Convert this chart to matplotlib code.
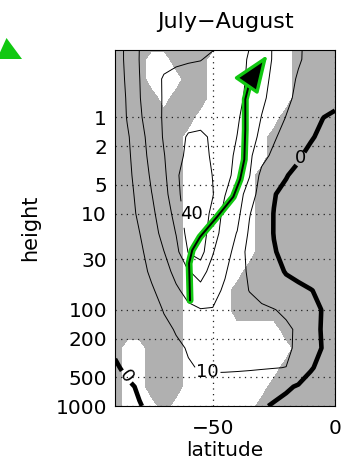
import numpy as np
import matplotlib
matplotlib.use("Agg")
import matplotlib.pyplot as plt
from matplotlib.patches import Polygon
from matplotlib.ticker import NullLocator

# ---------------- data ----------------
latitude = [-90, -85, -80, -75, -70, -65, -60, -55, -50, -45,
            -40, -35, -30, -25, -20, -15, -10, -5, 0]
pressure = [1000, 630, 400, 250, 160, 100, 63, 40, 25, 16,
            10, 6.3, 4, 2.5, 1.6, 1, 0.63, 0.4, 0.25, 0.16]

# contoured field, one row per pressure level
u_1000 = [-6, -3.5, -0.5, 2, 3.5, 4.5, 5, 5.5, 5.5, 5, 4, 3, 1.2, -1, -3, -4, -5, -5, -5]
u_630 = [-4, -1.5, 1, 3.5, 5, 6.5, 7.5, 8, 8.2, 8, 7.5, 6.5, 5, 3, 1.2, -0.8, -2.5, -3, -3]
u_400 = [-1, 1.5, 3, 5, 7, 8.5, 9.6, 10.3, 10.5, 10.5, 10.5, 10.5, 10.4, 10.2, 9.9, 5, 0.5, -1.5, -1.5]
u_250 = [1, 3.5, 5.5, 7, 8, 9.2, 10.3, 12, 13, 13.5, 13.5, 13, 12.5, 12, 11.5, 8.5, 2.5, -0.3, -1]
u_160 = [2, 4, 6, 7.5, 9, 10.3, 13, 15.5, 17, 17, 16.5, 15.5, 14.5, 13, 11.8, 8.5, 3.5, -0.8, -1.5]
u_100 = [2.5, 4.5, 6.5, 8.5, 10.2, 13, 17, 19.5, 19.3, 17.5, 15, 13, 11.5, 10.3, 8.5, 5.5, 3.5, -0.5, -1.5]
u_63 = [3, 5, 7, 9.2, 12.5, 18, 24, 27, 24, 18, 13, 9.8, 7.5, 5.5, 3.5, 2, 0.3, -1.5, -2.5]
u_40 = [3, 5.5, 8, 11, 16, 23, 29.5, 33, 27, 21, 14, 8.5, 5, 2.5, -0.5, -2, -3, -3.5, -4]
u_25 = [3, 5.5, 8.5, 13, 19.8, 27, 40.5, 44, 30.5, 24.5, 16, 6.5, 3, 0.5, -2, -3, -4, -4, -4]
u_16 = [3, 6, 9.8, 16, 23, 30.3, 44, 46, 34, 26, 19.5, 8.5, 4, -0.2, -2, -3, -4, -4, -4]
u_10 = [3, 6.5, 11.5, 18, 25, 33, 46, 47, 37, 27, 23, 10.5, 4.5, -0.2, -2, -3, -4, -4, -4]
u_6p3 = [3, 7, 12.5, 19.8, 26.5, 37, 46, 47, 40.5, 30.2, 25, 15, 5.5, 0.4, -2, -3, -4, -4, -4]
u_4 = [3, 7.5, 14, 21.5, 28, 38.5, 45, 45.5, 39.7, 33, 27, 20.5, 7, 4, 0.4, -2, -3, -3.5, -3.5]
u_2p5 = [3, 8, 15.5, 23, 29.5, 37, 42, 42.5, 39, 34, 28, 22, 13, 8, 4.5, 0.8, -2, -3, -3]
u_1p6 = [3, 8.7, 16.5, 24, 30.8, 37, 40.8, 41.3, 39, 35, 29.8, 25, 17, 11, 7, 3.5, 0.7, -1.5, -2]
u_1 = [3, 10.5, 18.5, 25.5, 31, 35, 37.5, 38, 37.5, 35, 31, 26, 19.7, 15, 9.7, 6, 3, 0.1, -1]
u_0p63 = [3, 11, 19.5, 26, 30.8, 33, 34.5, 35, 35, 34.5, 32.5, 27.5, 21.5, 17.5, 12, 8, 5, 3, 1.5]
u_0p4 = [3, 12, 19.8, 26.5, 30.8, 32, 32.5, 33, 33.5, 34, 33, 28.5, 23, 18, 13.5, 9, 6.5, 4.5, 3]
u_0p25 = [3, 13, 20.2, 25, 28, 29, 29.5, 29.8, 31, 33, 33.5, 29, 24.5, 19, 15, 10.8, 8, 6, 4.5]
u_0p16 = [3, 13, 20, 23, 25, 26, 27, 28, 29, 31, 33, 30.5, 25, 19, 15, 11, 8, 6, 5]

# shaded (grey) cells, one string per pressure level, '1' = shaded
shaded = [
    "1000100000001111111",  # 1000
    "1001110000000111111",  # 630
    "1001110000000011111",  # 400
    "1001110000000001111",  # 250
    "1111110000000011111",  # 160
    "1111110000111111111",  # 100
    "1111110000111111111",  # 63
    "1111110000011111111",  # 40
    "1111110000001111111",  # 25
    "1111110000001111111",  # 16
    "1111110000001111111",  # 10
    "1111110000001111111",  # 6.3
    "1111110000001111111",  # 4
    "1111110000000111111",  # 2.5
    "1111110000000111111",  # 1.6
    "1111111000000011111",  # 1
    "1111011100000001111",  # 0.63
    "1110001100000001111",  # 0.4
    "1110011100000001111",  # 0.25
    "1111111110000001111",  # 0.16
]

thin_levels = [10, 20, 30, 40]
zero_level = [0]

# green path (latitude, pressure) and arrow tip
path_lat = [-59.3, -59.5, -59.7, -58.4, -55.2, -48.2, -41.6, -38.8, -37.1, -36.7, -36.7, -34.7]
path_p = [80, 50, 33, 24, 17.5, 10.8, 6.7, 4.4, 2.75, 1.33, 0.65, 0.41]
tip_lat, tip_p = -27.6, 0.225

xticks = [-50, 0]
xtick_labels = ["\u221250", "0"]
yticks = [1, 2, 5, 10, 30, 100, 200, 500, 1000]
ytick_labels = ["1", "2", "5", "10", "30", "100", "200", "500", "1000"]

title = "July\u2212August"
xlabel = "latitude"
ylabel = "height"

# stray green triangle at top-left of the figure (pixel coords from top-left)
stray_px = [(6.5, 38), (22, 59), (-3, 59)]

# ---------------- style ----------------
GREY = "#b0b0b0"
GREEN = "#11c811"
W, H = 344, 468

fig = plt.figure(figsize=(W / 100, H / 100), dpi=100)
ax = fig.add_axes([115 / W, 1 - 406 / H, 220 / W, 356 / H])

lat = np.array(latitude, float)
p = np.array(pressure, float)
U = np.array([u_1000, u_630, u_400, u_250, u_160, u_100, u_63, u_40, u_25, u_16,
              u_10, u_6p3, u_4, u_2p5, u_1p6, u_1, u_0p63, u_0p4, u_0p25, u_0p16], float)
M = np.array([[int(c) for c in row] for row in shaded], float)

ax.set_yscale("log")
ax.set_xlim(-90, 0)
ax.set_ylim(1000, 0.2)

ax.contourf(lat, p, M, levels=[0.5, 1.5], colors=[GREY], zorder=0.5)

cs = ax.contour(lat, p, U, levels=thin_levels, colors="k", linewidths=0.7, zorder=3)
cz = ax.contour(lat, p, U, levels=zero_level, colors="k", linewidths=3.3, zorder=3)

t_thin = ax.clabel(cs, manual=[(-62, 10), (-52, 400)], fmt="%d", fontsize=13, inline=True,
                   inline_spacing=2)
for t in t_thin:
    t.set_rotation(0)
if len(t_thin) > 0:
    x0, y0 = t_thin[0].get_position()
    t_thin[0].set_position((x0 + 3.5, y0))
t_zero = ax.clabel(cz, manual=[(-15, 2.6), (-85.5, 500)], fmt="%d", fontsize=13, inline=True,
                   inline_spacing=2)
if len(t_zero) > 0:
    t_zero[0].set_rotation(0)

# grid
ax.set_xticks(xticks)
ax.set_xticklabels(xtick_labels)
ax.set_yticks(yticks)
ax.set_yticklabels(ytick_labels)
ax.yaxis.set_minor_locator(NullLocator())
ax.grid(True, color="#222222", linestyle=(0, (1, 3.5)), linewidth=0.9, zorder=1)
ax.set_axisbelow(False)
for gl in ax.get_xgridlines() + ax.get_ygridlines():
    gl.set_zorder(1)

ax.tick_params(axis="both", length=0, labelsize=14.5)
ax.tick_params(axis="x", pad=9.6)
ax.tick_params(axis="y", pad=5.8)
for s in ax.spines.values():
    s.set_linewidth(0.8)
    s.set_zorder(8)

# green path with arrow
ax.plot(path_lat, path_p, color=GREEN, lw=5, solid_capstyle="round",
        solid_joinstyle="round", zorder=5)
ax.plot(path_lat, path_p, color="k", lw=1.4, solid_capstyle="round",
        solid_joinstyle="round", zorder=6)
ax.annotate("", xy=(tip_lat, tip_p), xytext=(path_lat[-1], path_p[-1]),
            arrowprops=dict(arrowstyle="-|>,head_length=2.3,head_width=0.9",
                            mutation_scale=10, fc="k", ec=GREEN, lw=2.4,
                            shrinkA=0, shrinkB=0, joinstyle="round"),
            zorder=7)

ax.set_title(title, fontsize=16, pad=15.5)
ax.set_xlabel(xlabel, fontsize=14.5)
ax.set_ylabel(ylabel, fontsize=15)
ax.xaxis.set_label_coords(0.5, -(441 - 406) / 356)
ax.yaxis.set_label_coords((40 - 115) / 220, 0.5)

# stray green triangle
fig.add_artist(Polygon([(x / W, 1 - y / H) for x, y in stray_px], closed=True,
                       transform=fig.transFigure, fc=GREEN, ec="none"))

fig.savefig("out.png", dpi=100)
